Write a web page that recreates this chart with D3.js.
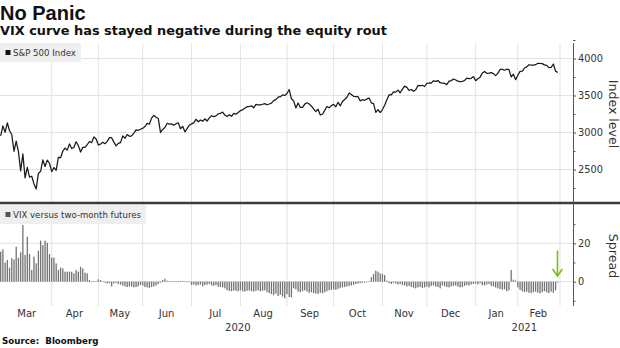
<!DOCTYPE html>
<html>
<head>
<meta charset="utf-8">
<script src="https://cdn.jsdelivr.net/npm/d3@7"></script>
<style>
  html, body { margin: 0; padding: 0; background: #fff; }
  svg { display: block; font-family: "DejaVu Sans", Verdana, sans-serif; }
</style>
</head>
<body>
<svg id="chart" width="620" height="348"></svg>
<script>
// ---------- DATA ----------
const titleText = "No Panic";
const subtitleText = "VIX curve has stayed negative during the equity rout";
const sourceText = "Source:  Bloomberg";
const topLegend = "S&P 500 Index";
const bottomLegend = "VIX versus two-month futures";
const topAxisTitle = "Index level";
const bottomAxisTitle = "Spread";

// trading days: Feb 28 2020 (index 0) ... Feb 26 2021
const monthLabels = ["Mar", "Apr", "May", "Jun", "Jul", "Aug", "Sep", "Oct", "Nov", "Dec", "Jan", "Feb"];
const monthTradingDays = [22, 21, 20, 22, 22, 21, 21, 22, 20, 22, 19, 19];
const yearLabels = ["2020", "2021"];
const topTicks = [2500, 3000, 3500, 4000];
const topMinorTicks = [2250, 2750, 3250, 3750, 4250];
const bottomTicks = [0, 20];
const bottomMinorTicks = [-10, 10, 30];

// S&P 500 daily close
const spx = [
  2954.22,
  // Mar 2020
  3090.23, 3003.37, 3130.12, 3023.94, 2972.37, 2746.56, 2882.23, 2741.38, 2480.64, 2711.02, 2386.13,
  2529.19, 2398.10, 2409.39, 2304.92, 2237.40, 2447.33, 2475.56, 2630.07, 2541.47, 2626.65, 2584.59,
  // Apr
  2470.50, 2526.90, 2488.65, 2663.68, 2659.41, 2749.98, 2789.82, 2761.63, 2846.06, 2783.36, 2799.55,
  2874.56, 2823.16, 2736.56, 2799.31, 2797.80, 2836.74, 2878.48, 2863.39, 2939.51, 2912.43,
  // May
  2830.71, 2842.74, 2868.44, 2848.42, 2881.19, 2929.80, 2930.32, 2870.12, 2820.00, 2852.50,
  2863.70, 2953.91, 2922.94, 2971.61, 2948.51, 2955.45, 2991.77, 3036.13, 3029.73, 3044.31,
  // Jun
  3055.73, 3080.82, 3122.87, 3112.35, 3193.93, 3232.39, 3207.18, 3190.14, 3002.10, 3041.31, 3066.59,
  3124.74, 3113.49, 3115.34, 3097.74, 3117.86, 3131.29, 3050.33, 3083.76, 3009.05, 3053.24, 3100.29,
  // Jul
  3115.86, 3130.01, 3179.72, 3145.32, 3169.94, 3152.05, 3185.04, 3155.22, 3197.52, 3226.56, 3215.57,
  3224.73, 3251.84, 3257.30, 3276.02, 3235.66, 3215.63, 3239.41, 3218.44, 3258.44, 3246.22, 3271.12,
  // Aug
  3294.61, 3306.51, 3327.77, 3349.16, 3351.28, 3360.47, 3333.69, 3380.35, 3373.43, 3372.85, 3381.99,
  3389.78, 3374.85, 3385.51, 3397.16, 3431.28, 3443.62, 3478.73, 3484.55, 3508.01, 3500.31,
  // Sep
  3526.65, 3580.84, 3455.06, 3426.96, 3331.84, 3398.96, 3339.19, 3340.97, 3383.54, 3401.20, 3385.49,
  3357.01, 3319.47, 3281.06, 3315.57, 3236.92, 3246.59, 3298.46, 3351.60, 3335.47, 3363.00,
  // Oct
  3380.80, 3348.42, 3408.60, 3360.97, 3419.44, 3446.83, 3477.14, 3534.22, 3511.93, 3488.67, 3483.34,
  3483.81, 3426.92, 3443.12, 3435.56, 3453.49, 3465.39, 3400.97, 3390.68, 3271.03, 3310.11, 3269.96,
  // Nov
  3310.24, 3369.16, 3443.44, 3510.45, 3509.44, 3550.50, 3545.53, 3572.66, 3537.01, 3585.15,
  3626.91, 3609.53, 3567.79, 3581.87, 3557.54, 3577.59, 3635.41, 3629.65, 3638.35, 3621.63,
  // Dec
  3662.45, 3669.01, 3666.72, 3699.12, 3691.96, 3702.25, 3672.82, 3668.10, 3663.46, 3647.49, 3694.62,
  3701.17, 3722.48, 3709.41, 3694.92, 3687.26, 3690.01, 3703.06, 3735.36, 3727.04, 3732.04, 3756.07,
  // Jan 2021
  3700.65, 3726.86, 3748.14, 3803.79, 3824.68, 3799.61, 3801.19, 3809.84, 3795.54, 3768.25,
  3798.91, 3851.85, 3853.07, 3841.47, 3855.36, 3849.62, 3750.77, 3787.38, 3714.24,
  // Feb 2021
  3773.86, 3826.31, 3830.17, 3871.74, 3886.83, 3915.59, 3911.23, 3909.88, 3916.38, 3934.83,
  3932.59, 3931.33, 3913.97, 3906.71, 3876.50, 3881.37, 3925.43, 3829.34, 3811.15
];

// VIX minus two-month VIX futures (points)
const spread = [
  15.6, 16.8, 9.9, 11.3, 7.3, 12.2, 11.6, 18.2, 12.5, 15.3, 29.5, 13.9, 23.4, 14.4, 6.1, 13.0,
  9.5, 16.1, 21.4, 19.1, 21.4, 20.3, 14.4, 12.5, 12.5, 9.5, 6.1, 7.3, 6.9, 5.2, 5.2, 5.2,
  5.2, 4.3, 6.1, 5.2, 7.8, 6.9, 4.7, 4.3, 0.9, 0.3, 0.2, 0.3, 1.2,
  0.8, 0.3, -0.5, -1.0, -0.8, -2.5, -1.0, -0.6, -1.2, -1.5,
  -2.0, -2.5, -2.8, -2.5, -2.6, -3.0, -2.8, -2.5,
  -1.7, -2.0, -2.8, -3.0, -3.2, -2.8, -2.5, -2.0, -1.2, -0.5,
  0.8, 1.5, 0.5,
  0.2, 0.3, 0.2, -0.2, 0.3, 0.2, 0.4, 0.2, -0.3, 0.1,
  -1.7, -1.5, -2.0, -1.8, -1.5, -2.5, -1.8, -1.6, -1.2, -2.0, -2.2, -1.8, -2.6, -2.8,
  -3.0, -3.5, -4.5, -4.8, -5.0, -4.6, -4.8, -5.0,
  -4.5, -5.0, -5.2, -4.8, -4.6, -5.0, -5.2, -4.8, -4.5, -5.0, -4.8, -4.5, -5.5, -6.0,
  -6.5, -7.0, -6.2, -7.5, -6.8, -7.8, -8.7,
  -6.5, -8.0, -8.2,
  -3.5, -4.0, -5.2, -5.5, -5.0, -4.5, -5.2, -5.8, -5.5, -6.0, -6.2, -6.4, -5.8, -6.1, -5.5,
  -5.0, -4.5, -4.3, -4.0, -4.3, -3.8,
  -3.2, -3.0, -2.8, -2.5, -2.2, -2.0, -1.6, -1.2,
  -1.0, -0.8, -0.6, -0.5, -0.3, 0.2,
  2.3, 4.0, 5.7, 5.2, 4.3, 4.0, 3.5,
  0.5, -0.8, -1.2, -0.6, -1.0,
  -1.5, -1.2, -1.8, -2.0, -2.5, -2.2, -2.8, -3.2, -3.5, -3.0, -2.8, -3.3, -3.0,
  -2.5, -3.0, -2.2, -2.0, -2.5, -2.8, -3.5, -2.0, -2.4, -2.8, -3.0, -2.5, -2.2, -2.0, -2.6,
  -3.0, -2.8, -2.2, -1.8, -2.0, -1.5, -1.2,
  -1.0, -1.5, -0.8, -1.8, -2.0, -1.5, -1.2, -2.2,
  -2.5, -3.0, -3.5, -3.8, -4.2, -4.0, -5.0, -4.5, 6.1, 1.0, 0.6,
  -3.0, -4.3, -5.0, -5.5, -5.2, -5.8, -6.0, -5.5, -5.2, -5.8, -6.1, -5.5, -5.0, -5.6, -6.0,
  -5.2, -5.8, -4.5, -0.5
];

// ---------- LAYOUT ----------
const svg = d3.select("#chart");
const plotRight = 573;
const topPanel = { top: 40, bottom: 202 };
const botPanel = { top: 204, bottom: 306 };
const gridColor = "#e3e3e3";
const sansFont = "'DejaVu Sans', Verdana, sans-serif";

const n = spx.length;
const x = d3.scaleLinear().domain([-0.3, 257.85]).range([0, plotRight]);
const yTop = d3.scaleLinear().domain([2061, 4250]).range([topPanel.bottom, topPanel.top]);
const yBot = d3.scaleLinear().domain([-12.7, 40.5]).range([botPanel.bottom, botPanel.top]);

// month starts (trading-day index)
const monthStarts = [];
let acc = 1;
monthTradingDays.forEach(d => { monthStarts.push(acc); acc += d; });
const monthCenters = monthStarts.map((s, i) => s + (monthTradingDays[i] - 1) / 2);
const yearBoundary = monthStarts[10] - 0.5;
const yearCenters = [(x.domain()[0] + yearBoundary) / 2, (yearBoundary + x.domain()[1]) / 2];

// ---------- GRID ----------
const grid = svg.append("g");
grid.selectAll("line.v").data(monthStarts.slice(1).concat([acc])).join("line")
  .attr("x1", d => x(d)).attr("x2", d => x(d))
  .attr("y1", 43).attr("y2", botPanel.bottom)
  .attr("stroke", gridColor).attr("stroke-width", 1);
grid.selectAll("line.ht").data(topTicks).join("line")
  .attr("x1", 0).attr("x2", plotRight)
  .attr("y1", d => yTop(d)).attr("y2", d => yTop(d))
  .attr("stroke", gridColor).attr("stroke-width", 1);
grid.selectAll("line.hb").data(bottomTicks).join("line")
  .attr("x1", 0).attr("x2", plotRight)
  .attr("y1", d => yBot(d)).attr("y2", d => yBot(d))
  .attr("stroke", gridColor).attr("stroke-width", 1);

// ---------- BARS ----------
svg.append("g").selectAll("rect").data(spread).join("rect")
  .attr("x", (d, i) => x(i) - 0.65)
  .attr("width", 1.3)
  .attr("y", d => yBot(Math.max(0, d)))
  .attr("height", d => Math.max(0.6, Math.abs(yBot(d) - yBot(0))))
  .attr("fill", "#737373");

// ---------- LINE ----------
const line = d3.line().x((d, i) => x(i)).y(d => yTop(d));
svg.append("path").datum(spx)
  .attr("d", line)
  .attr("fill", "none")
  .attr("stroke", "#1a1a1a")
  .attr("stroke-width", 1.25)
  .attr("stroke-linejoin", "round");

// ---------- SEPARATOR ----------
svg.append("line")
  .attr("x1", 0).attr("x2", 620)
  .attr("y1", 203).attr("y2", 203)
  .attr("stroke", "#3c3c3c").attr("stroke-width", 2.4);

// ---------- AXES ----------
const axisTop = d3.axisRight(yTop).tickValues(topTicks).tickSize(3).tickPadding(2).tickFormat(d3.format("d"));
const gTop = svg.append("g").attr("transform", `translate(${plotRight},0)`).call(axisTop);
const axisTopMinor = d3.axisRight(yTop).tickValues(topMinorTicks).tickSize(2.5).tickFormat("");
const gTopMinor = svg.append("g").attr("transform", `translate(${plotRight},0)`).call(axisTopMinor);
const axisBot = d3.axisRight(yBot).tickValues(bottomTicks).tickSize(3).tickPadding(2).tickFormat(d3.format("d"));
const gBot = svg.append("g").attr("transform", `translate(${plotRight},0)`).call(axisBot);
const axisBotMinor = d3.axisRight(yBot).tickValues(bottomMinorTicks).tickSize(2.5).tickFormat("");
const gBotMinor = svg.append("g").attr("transform", `translate(${plotRight},0)`).call(axisBotMinor);
[gTop, gTopMinor, gBot, gBotMinor].forEach(g => {
  g.attr("font-family", null).attr("font-size", null);
  g.select(".domain").remove();
  g.selectAll(".tick line").attr("stroke", "#555");
  g.selectAll(".tick text").style("font-family", sansFont).style("font-size", "9.8px").attr("fill", "#333");
});
svg.append("line")
  .attr("x1", plotRight + 0.5).attr("x2", plotRight + 0.5)
  .attr("y1", 43).attr("y2", botPanel.bottom)
  .attr("stroke", "#555").attr("stroke-width", 1);

// x axis month labels
const axisX = d3.axisBottom(x).tickValues(monthCenters).tickSize(0).tickPadding(0)
  .tickFormat((d, i) => monthLabels[i]);
const gX = svg.append("g").attr("transform", `translate(0,307)`).call(axisX);
gX.select(".domain").remove();
gX.selectAll(".tick text").style("font-family", sansFont).style("font-size", "10px").attr("fill", "#333")
  .attr("dy", "0.71em").attr("y", 3);

const axisYear = d3.axisBottom(x).tickValues(yearCenters).tickSize(0).tickPadding(0)
  .tickFormat((d, i) => yearLabels[i]);
const gY = svg.append("g").attr("transform", `translate(0,321)`).call(axisYear);
gY.select(".domain").remove();
gY.selectAll(".tick text").style("font-family", sansFont).style("font-size", "10px").attr("fill", "#333")
  .attr("dy", "0.71em").attr("y", 2.5);

// axis titles
svg.append("text")
  .attr("transform", `translate(609,${(yTop(4000) + yTop(2500)) / 2}) rotate(90)`)
  .attr("text-anchor", "middle").style("font-family", sansFont).style("font-size", "12.6px").attr("fill", "#333")
  .text(topAxisTitle);
svg.append("text")
  .attr("transform", `translate(609,256) rotate(90)`)
  .attr("text-anchor", "middle").style("font-family", sansFont).style("font-size", "12.6px").attr("fill", "#333")
  .text(bottomAxisTitle);

// ---------- LEGENDS ----------
function legend(y0, w, label, color) {
  const g = svg.append("g");
  g.append("rect").attr("x", 0).attr("y", y0).attr("width", w).attr("height", 19)
    .attr("fill", "#eeeeee").attr("fill-opacity", 0.92);
  g.append("rect").attr("x", 5.5).attr("y", y0 + 7).attr("width", 5).attr("height", 5).attr("fill", color);
  g.append("text").attr("x", 13).attr("y", y0 + 13)
    .style("font-family", sansFont).style("font-size", "8.6px").attr("fill", "#333").text(label);
}
legend(43, 81, topLegend, "#111");
legend(205, 146, bottomLegend, "#555");

// ---------- ARROW ----------
const lastIdx = n - 1;
const ax = x(lastIdx) - 0.3;
const arrow = svg.append("g").attr("stroke", "#76c11c").attr("stroke-width", 1.6)
  .attr("fill", "none").attr("stroke-linecap", "round");
arrow.append("line").attr("x1", ax).attr("x2", ax).attr("y1", 251).attr("y2", 276);
arrow.append("polyline").attr("points", `${ax - 4.5},269.5 ${ax},276 ${ax + 4.5},269.5`);

// ---------- TITLES ----------
svg.append("text").attr("x", 0).attr("y", 20)
  .style("font-family", "'Liberation Sans', Arial, sans-serif")
  .style("font-weight", "bold").style("font-size", "20px").attr("fill", "#111")
  .text(titleText);
svg.append("text").attr("x", 0).attr("y", 35)
  .style("font-family", sansFont)
  .style("font-weight", "bold").style("font-size", "12.9px").attr("fill", "#111")
  .text(subtitleText);
svg.append("text").attr("x", 2).attr("y", 344)
  .style("font-family", sansFont)
  .style("font-weight", "bold").style("font-size", "8.7px").attr("fill", "#111")
  .style("white-space", "pre")
  .text(sourceText);
</script>
</body>
</html>
